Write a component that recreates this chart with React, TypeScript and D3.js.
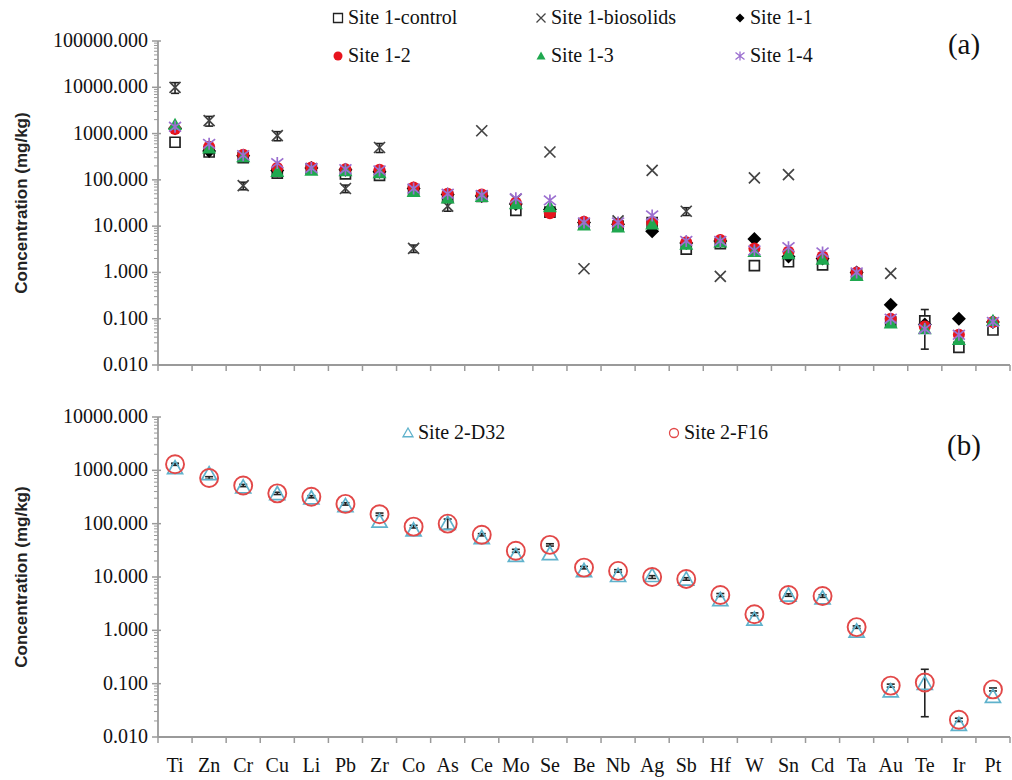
import React from 'react';
import * as d3 from 'd3';

// categories (x axis)
const elements = ['Ti', 'Zn', 'Cr', 'Cu', 'Li', 'Pb', 'Zr', 'Co', 'As', 'Ce', 'Mo', 'Se', 'Be', 'Nb', 'Ag', 'Sb', 'Hf', 'W', 'Sn', 'Cd', 'Ta', 'Au', 'Te', 'Ir', 'Pt'];

// panel (a) - Site 1 (mg/kg)
const site1Control = [650, 400, 300, 140, 170, 135, 125, 60, 42, 44, 22, 20, 11, 10, 12, 3.2, 4.2, 1.4, 1.7, 1.45, 0.88, 0.085, 0.09, 0.024, 0.057];
const site1ControlSd = [0, 0, 0, 0, 0, 0, 0, 0, 0, 0, 0, 0, 0, 0, 0, 0, 0, 0, 0, 0, 0, 0, 0.068, 0, 0];
const site1Biosolids = [10000, 1900, 75, 900, 175, 65, 500, 3.3, 27, 1150, 38, 400, 1.2, 13, 160, 21, 0.82, 110, 130, null, null, 0.95, null, null, null];
const site1BiosolidsSd = [2600, 450, 14, 200, 0, 12, 110, 0.6, 6, 0, 0, 0, 0, 0, 0, 4, 0, 0, 0, 0, 0, 0, 0, 0, 0];
const site1_1 = [1300, 420, 330, 160, 180, 165, 150, 65, 48, 45, 30, 23, 12, 11, 7.8, 4.3, 4.8, 5.3, 2.2, 2.0, 1.0, 0.2, 0.075, 0.1, 0.085];
const site1_2 = [1250, 520, 350, 180, 185, 170, 165, 68, 50, 48, 32, 19, 12.5, 11, 12, 4.5, 5.0, 3.3, 2.8, 2.2, 1.0, 0.1, 0.068, 0.045, 0.085];
const site1_3 = [1550, 480, 310, 150, 160, 155, 140, 55, 40, 43, 30, 26, 10.5, 9.5, 11, 4.0, 4.5, 2.8, 2.5, 1.9, 0.85, 0.08, 0.06, 0.035, 0.09];
const site1_4 = [1400, 600, 340, 230, 180, 170, 160, 65, 50, 47, 40, 36, 12, 12, 17, 4.8, 4.8, 3.0, 3.5, 2.7, 1.0, 0.1, 0.06, 0.045, 0.085];

// panel (b) - Site 2 (mg/kg)
const site2D32 = [1100, 850, 480, 360, 300, 215, 110, 75, 100, 54, 25, 27, 13, 10.5, 10.5, 9, 3.7, 1.6, 4.5, 4.0, 0.95, 0.072, 0.1, 0.017, 0.057];
const site2F16 = [1300, 720, 520, 370, 320, 235, 150, 88, 100, 62, 31, 40, 15, 13, 10, 9.2, 4.6, 2.0, 4.6, 4.4, 1.15, 0.092, 0.105, 0.021, 0.078];
const site2F16Sd = [60, 40, 25, 18, 15, 12, 8, 5, 22, 3, 2, 2, 0.8, 0.7, 0.6, 0.5, 0.3, 0.12, 0.25, 0.25, 0.06, 0.006, 0.081, 0.0015, 0.005];

const topTicks = [0.01, 0.1, 1, 10, 100, 1000, 10000, 100000];
const botTicks = [0.01, 0.1, 1, 10, 100, 1000, 10000];

const xLeft = 158;
const xRight = 1010;

const x = d3.scaleBand<string>().domain(elements).range([xLeft, xRight]);
const yTop = d3.scaleLog().domain([0.01, 100000]).range([365, 41]);
const yBot = d3.scaleLog().domain([0.01, 10000]).range([737, 417]);

type Shape = 'square' | 'cross' | 'diamond' | 'circle' | 'triangle' | 'asterisk';

function shapePath(shape: Shape, s: number) {
  switch (shape) {
    case 'square':
      return `M${-s},${-s}h${2 * s}v${2 * s}h${-2 * s}Z`;
    case 'cross':
      return `M${-s},${-s}L${s},${s}M${-s},${s}L${s},${-s}`;
    case 'diamond':
      return `M0,${-s}L${s},0L0,${s}L${-s},0Z`;
    case 'triangle':
      return `M0,${-s}L${s},${s * 0.75}L${-s},${s * 0.75}Z`;
    case 'asterisk':
      return `M${-s},${-s * 0.8}L${s},${s * 0.8}M${-s},${s * 0.8}L${s},${-s * 0.8}M0,${-s}L0,${s}`;
    default:
      return d3.symbol(d3.symbolCircle, Math.PI * s * s)() as string;
  }
}

interface Series {
  name: string;
  values: (number | null)[];
  sd?: number[];
  shape: Shape;
  size: number;
  fill: string;
  stroke: string;
  strokeWidth: number;
}

const topSeries: Series[] = [
  { name: 'Site 1-control', values: site1Control, sd: site1ControlSd, shape: 'square', size: 5, fill: '#fff', stroke: '#222', strokeWidth: 1.7 },
  { name: 'Site 1-biosolids', values: site1Biosolids, sd: site1BiosolidsSd, shape: 'cross', size: 5.5, fill: 'none', stroke: '#444', strokeWidth: 1.7 },
  { name: 'Site 1-1', values: site1_1, shape: 'diamond', size: 7, fill: '#000', stroke: 'none', strokeWidth: 0 },
  { name: 'Site 1-2', values: site1_2, shape: 'circle', size: 6, fill: '#e8141e', stroke: 'none', strokeWidth: 0 },
  { name: 'Site 1-3', values: site1_3, shape: 'triangle', size: 7, fill: '#1fa84f', stroke: 'none', strokeWidth: 0 },
  { name: 'Site 1-4', values: site1_4, shape: 'asterisk', size: 6, fill: 'none', stroke: '#9b6fd0', strokeWidth: 1.7 },
];

const botSeries: Series[] = [
  { name: 'Site 2-D32', values: site2D32, shape: 'triangle', size: 7.5, fill: 'none', stroke: '#5fb2cc', strokeWidth: 1.7 },
  { name: 'Site 2-F16', values: site2F16, sd: site2F16Sd, shape: 'circle', size: 9, fill: 'none', stroke: '#e24848', strokeWidth: 1.9 },
];

const serif = '"Liberation Serif", "DejaVu Serif", serif';
const sans = '"Liberation Sans", Arial, sans-serif';

function Panel({ y, ticks, series, label, labelY }: { y: d3.ScaleLogarithmic<number, number>; ticks: number[]; series: Series[]; label: string; labelY: number }) {
  const [y0, y1] = y.range();
  const minor: number[] = [];
  for (let i = 0; i < ticks.length - 1; i++) {
    for (let k = 2; k <= 9; k++) minor.push(ticks[i] * k);
  }
  const cx = (e: string) => (x(e) as number) + x.bandwidth() / 2;
  const bounds = elements.map(e => x(e) as number).concat([xRight]);
  return (
    <g>
      {/* y axis */}
      <line x1={xLeft} x2={xLeft} y1={y0} y2={y1} stroke="#9a9a9a" strokeWidth={1.8} />
      {minor.map((v, i) => (
        <line key={'m' + i} x1={xLeft - 4} x2={xLeft} y1={y(v)} y2={y(v)} stroke="#9a9a9a" strokeWidth={1} />
      ))}
      {ticks.map(v => (
        <g key={v}>
          <line x1={xLeft - 6} x2={xLeft + 3} y1={y(v)} y2={y(v)} stroke="#9a9a9a" strokeWidth={1.5} />
          <text x={xLeft - 10} y={y(v) + 6} textAnchor="end" fontFamily={serif} fontSize={20} fill="#111">
            {v.toFixed(3)}
          </text>
        </g>
      ))}
      {/* x axis */}
      <line x1={xLeft} x2={xRight} y1={y0} y2={y0} stroke="#9a9a9a" strokeWidth={1.8} />
      {bounds.map((b, i) => (
        <line key={'t' + i} x1={b} x2={b} y1={y0} y2={y0 + 6} stroke="#9a9a9a" strokeWidth={1.5} />
      ))}
      <text
        transform={`translate(27,${labelY}) rotate(-90)`}
        textAnchor="middle"
        fontFamily={sans}
        fontWeight="bold"
        fontSize={17}
        fill="#222"
      >
        {label}
      </text>
      {/* error bars */}
      {series.map(s =>
        s.sd
          ? elements.map((e, i) => {
              const v = s.values[i];
              const sd = s.sd![i];
              if (v == null || !sd) return null;
              const lo = Math.max(v - sd, 0.0105);
              const hi = v + sd;
              const px = cx(e);
              return (
                <g key={s.name + e + 'err'} stroke="#222" strokeWidth={1.6}>
                  <line x1={px} x2={px} y1={y(lo)} y2={y(hi)} />
                  <line x1={px - 4} x2={px + 4} y1={y(lo)} y2={y(lo)} />
                  <line x1={px - 4} x2={px + 4} y1={y(hi)} y2={y(hi)} />
                </g>
              );
            })
          : null
      )}
      {/* points */}
      {series.map(s =>
        elements.map((e, i) => {
          const v = s.values[i];
          if (v == null) return null;
          return (
            <path
              key={s.name + e}
              d={shapePath(s.shape, s.size)}
              transform={`translate(${cx(e)},${y(v)})`}
              fill={s.fill}
              stroke={s.stroke}
              strokeWidth={s.strokeWidth}
            />
          );
        })
      )}
    </g>
  );
}

function LegendItem({ s, mx, ty, size }: { s: Series; mx: number; ty: number; size: number }) {
  return (
    <g>
      <path
        d={shapePath(s.shape, size)}
        transform={`translate(${mx},${ty - 6})`}
        fill={s.fill}
        stroke={s.stroke}
        strokeWidth={s.strokeWidth === 0 ? 0 : 1.3}
      />
      <text x={mx + 10} y={ty} fontFamily={serif} fontSize={20} fill="#111">
        {s.name}
      </text>
    </g>
  );
}

export default function App() {
  const cols = [338, 541, 740];
  return (
    <svg width={1012} height={780} style={{ position: 'absolute', left: 0, top: 0, background: '#fff' }}>
      <rect width={1012} height={780} fill="#fff" />
      <Panel y={yTop} ticks={topTicks} series={topSeries} label="Concentration (mg/kg)" labelY={203} />
      <Panel y={yBot} ticks={botTicks} series={botSeries} label="Concentration (mg/kg)" labelY={577} />

      {/* legend (a) */}
      {topSeries.map((s, i) => (
        <LegendItem key={s.name} s={s} mx={cols[i % 3]} ty={i < 3 ? 24 : 62} size={4.5} />
      ))}
      <text x={964} y={54} textAnchor="middle" fontFamily={serif} fontSize={29} fill="#111">(a)</text>

      {/* legend (b) */}
      <LegendItem s={botSeries[0]} mx={408} ty={439} size={5} />
      <LegendItem s={botSeries[1]} mx={674} ty={439} size={4.5} />
      <text x={964} y={455} textAnchor="middle" fontFamily={serif} fontSize={29} fill="#111">(b)</text>

      {/* category labels */}
      {elements.map(e => (
        <text key={e} x={(x(e) as number) + x.bandwidth() / 2} y={772} textAnchor="middle" fontFamily={serif} fontSize={20} fill="#111">
          {e}
        </text>
      ))}
    </svg>
  );
}
